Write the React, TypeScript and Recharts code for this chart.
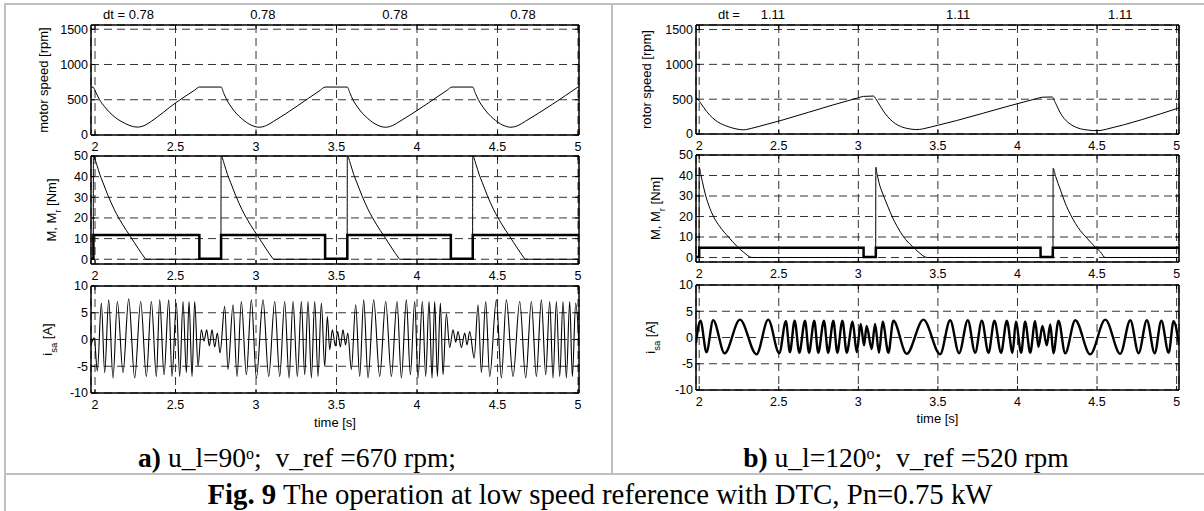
import React from "react";
import { LineChart, Line, XAxis, YAxis, CartesianGrid, ReferenceLine } from "recharts";

type Pt = [number, number];

// ticks
const timeTicks = [2, 2.5, 3, 3.5, 4, 4.5, 5];
const speedTicks = [0, 500, 1000, 1500];
const torqueTicks = [0, 10, 20, 30, 40, 50];
const currentTicks = [-10, -5, 0, 5, 10];

// dt notes above the speed plots
const dtTimesA = [2.208, 3.043, 3.863, 4.658];
const dtTextA = ["dt = 0.78", "0.78", "0.78", "0.78"];
const dtTimesB = [2.187, 2.463, 3.627, 4.646];
const dtTextB = ["dt =", "1.11", "1.11", "1.11"];

// a) u_l=90, v_ref=670 rpm
const speedA: Pt[] = [
  [1.975, 680], [1.988, 678], [2.0, 630], [2.027, 505], [2.06, 400], [2.093, 315], [2.125, 250],
  [2.155, 203], [2.19, 160], [2.217, 133], [2.245, 116], [2.265, 112], [2.285, 118], [2.31, 138],
  [2.35, 195], [2.5, 455], [2.62, 638], [2.648, 680], [2.783, 680], [2.8, 590], [2.818, 500],
  [2.85, 385], [2.88, 300], [2.91, 235], [2.94, 180], [2.97, 140], [3.0, 116], [3.02, 110],
  [3.04, 116], [3.065, 135], [3.11, 195], [3.4, 636], [3.429, 680], [3.567, 680], [3.584, 590],
  [3.602, 500], [3.634, 385], [3.664, 300], [3.694, 235], [3.724, 180], [3.754, 140], [3.784, 116],
  [3.804, 110], [3.824, 116], [3.849, 135], [3.894, 195], [4.19, 640], [4.216, 680], [4.346, 680],
  [4.363, 590], [4.381, 500], [4.413, 385], [4.443, 300], [4.473, 235], [4.503, 180], [4.533, 140],
  [4.563, 116], [4.583, 110], [4.603, 116], [4.628, 135], [4.673, 195], [5.006, 690],
];

const torqueA: Pt[] = [
  [1.975, 0.3], [1.99, 0.3], [1.99, 11.7], [2.648, 11.7], [2.648, 0.3], [2.783, 0.3], [2.783, 11.7],
  [3.429, 11.7], [3.429, 0.3], [3.567, 0.3], [3.567, 11.7], [4.21, 11.7], [4.21, 0.3], [4.346, 0.3],
  [4.346, 11.7], [5.006, 11.7],
];

const loadA: Pt[] = [
  [1.975, 0], [1.989, 0], [1.99, 50], [2.01, 46], [2.03, 41], [2.05, 37], [2.08, 31], [2.12, 24],
  [2.17, 17], [2.22, 11], [2.27, 5], [2.31, 0.5], [2.315, 0],
  [2.782, 0], [2.783, 50], [2.803, 46], [2.823, 41], [2.843, 37], [2.873, 31], [2.913, 24],
  [2.963, 17], [3.013, 11], [3.063, 5], [3.103, 0.5], [3.108, 0],
  [3.566, 0], [3.567, 50], [3.587, 46], [3.607, 41], [3.627, 37], [3.657, 31], [3.697, 24],
  [3.747, 17], [3.797, 11], [3.847, 5], [3.887, 0.5], [3.892, 0],
  [4.345, 0], [4.346, 50], [4.366, 46], [4.386, 41], [4.406, 37], [4.436, 31], [4.476, 24],
  [4.526, 17], [4.576, 11], [4.626, 5], [4.666, 0.5], [4.671, 0], [5.006, 0],
];

const currentA: Pt[] = [
  [1.975, -1.0], [1.995, 0.3], [2.0145, -5.9], [2.0393, 6.8], [2.06, -6.2], [2.0849, 7.4],
  [2.1118, -7.2], [2.1387, 7.1], [2.1739, -6.2], [2.2091, 7.6], [2.2464, -7.2], [2.2836, 7.1],
  [2.3188, -6.9], [2.3499, 7.1], [2.381, -6.9], [2.4017, 7.4], [2.4286, -6.6], [2.4576, 7.4],
  [2.4783, -6.9], [2.5052, 6.8], [2.5259, -6.9], [2.5466, 7.1], [2.5673, -6.2], [2.5839, 7.1],
  [2.6025, -6.9], [2.619, 7.1], [2.6398, -5.0], [2.6605, 1.8], [2.677, -0.3], [2.6936, 1.8],
  [2.7101, -1.2], [2.7267, 1.8], [2.7433, -1.4], [2.7598, 1.2], [2.7764, -2.5], [2.8054, 6.2],
  [2.8261, -5.6], [2.8571, 6.5], [2.882, -6.9], [2.9089, 7.1], [2.94, -6.6], [2.971, 7.4],
  [3.0021, -7.2], [3.0435, 7.4], [3.0787, -6.9], [3.116, 7.1], [3.147, -6.9], [3.178, 7.1],
  [3.205, -7.2], [3.2298, 7.1], [3.2567, -6.9], [3.2816, 7.1], [3.3023, -6.6], [3.323, 7.1],
  [3.3437, -7.2], [3.3644, 7.1], [3.3851, -6.9], [3.4058, 6.8], [3.4265, -5.0], [3.443, 4.3],
  [3.4576, -1.9], [3.4741, 1.8], [3.4928, -1.2], [3.507, 1.5], [3.5235, -1.4], [3.54, 1.8],
  [3.556, -1.0], [3.57, 1.2], [3.5921, -5.6], [3.619, 6.5], [3.6439, -6.9], [3.6687, 7.4],
  [3.6957, -7.2], [3.7309, 7.4], [3.7681, -6.9], [3.8054, 7.1], [3.8406, -6.9], [3.8758, 7.1],
  [3.9027, -7.2], [3.9337, 7.4], [3.9586, -6.6], [3.9855, 7.1], [4.0062, -7.2], [4.0331, 7.1],
  [4.0538, -6.9], [4.0745, 7.1], [4.0932, -7.2], [4.1097, 7.1], [4.1263, -6.9], [4.1449, 6.8],
  [4.1615, -6.6], [4.1822, 4.8], [4.2029, -1.5], [4.2236, 1.8], [4.2402, -0.5], [4.2547, 1.5],
  [4.2754, -1.5], [4.2961, 1.2], [4.3106, -1.0], [4.3271, 1.5], [4.355, -3.5], [4.3789, 6.5],
  [4.3996, -6.2], [4.4265, 7.1], [4.4514, -6.9], [4.4928, 7.4], [4.5238, -7.2], [4.5549, 7.4],
  [4.5963, -6.9], [4.6377, 7.1], [4.6749, -7.2], [4.7101, 7.1], [4.7412, -6.9], [4.7722, 7.4],
  [4.7992, -6.6], [4.824, 7.1], [4.8447, -7.2], [4.8654, 7.1], [4.8861, -6.9], [4.9068, 7.1],
  [4.9275, -7.2], [4.9482, 7.1], [4.9648, -6.9], [4.9855, 6.8], [5.006, -1.0],
];

// b) u_l=120, v_ref=520 rpm
const speedB: Pt[] = [
  [1.98, 520], [1.995, 490], [2.01, 440], [2.027, 385], [2.048, 320], [2.069, 265], [2.1, 200],
  [2.132, 154], [2.165, 120], [2.195, 96], [2.225, 76], [2.258, 63], [2.28, 60], [2.3, 66],
  [2.33, 82], [2.37, 105], [3.0, 520], [3.033, 540], [3.096, 545], [3.11, 505], [3.138, 400],
  [3.17, 290], [3.2, 210], [3.232, 150], [3.264, 110], [3.295, 86], [3.327, 72], [3.358, 64],
  [3.385, 66], [3.41, 76], [3.45, 97], [4.12, 508], [4.155, 528], [4.218, 532], [4.24, 440],
  [4.27, 300], [4.3, 205], [4.333, 140], [4.365, 100], [4.396, 75], [4.43, 60], [4.47, 50],
  [4.5, 48], [4.525, 52], [4.56, 70], [5.015, 375],
];

const torqueB: Pt[] = [
  [1.98, 0.3], [2.0, 0.3], [2.0, 4.8], [3.033, 4.8], [3.033, 0.2], [3.11, 0.2], [3.11, 4.8],
  [4.145, 4.8], [4.145, 0.2], [4.222, 0.2], [4.222, 4.8], [5.015, 4.8],
];

const loadB: Pt[] = [
  [1.98, 0], [1.999, 0], [2.0, 44], [2.01, 40.5], [2.02, 37], [2.038, 31], [2.06, 25.5], [2.09, 20],
  [2.13, 15], [2.184, 10], [2.237, 5.5], [2.28, 2.5], [2.331, 0],
  [3.109, 0], [3.11, 44], [3.117, 41], [3.13, 36.5], [3.159, 30], [3.185, 25], [3.212, 20],
  [3.245, 15], [3.285, 10], [3.338, 5.5], [3.38, 2.5], [3.432, 0],
  [4.223, 0], [4.224, 43.5], [4.24, 39.5], [4.27, 33], [4.3, 26.5], [4.333, 21], [4.365, 16.5],
  [4.396, 13], [4.43, 10], [4.459, 7.5], [4.49, 5], [4.522, 2.7], [4.55, 0], [5.015, 0],
];

const currentB: Pt[] = [
  [1.98, -1.0], [2.008, 3.2], [2.046, -2.8], [2.088, 3.3], [2.16, -3.0], [2.256, 3.4], [2.36, -3.2],
  [2.434, 3.4], [2.503, -3.0], [2.545, 3.1], [2.57, -2.8], [2.6, 3.2], [2.629, -2.9], [2.665, 3.2],
  [2.69, -2.9], [2.723, 3.2], [2.748, -2.9], [2.784, 3.2], [2.81, -2.9], [2.843, 3.2], [2.868, -2.9],
  [2.9, 3.2], [2.927, -2.9], [2.964, 3.0], [2.99, -2.8], [3.015, 2.6], [3.036, -1.5], [3.052, 2.2],
  [3.084, -2.2], [3.105, 2.6], [3.13, -2.9], [3.153, 3.0], [3.189, -2.9], [3.22, 3.2], [3.304, -3.1],
  [3.409, 3.4], [3.514, -3.2], [3.577, 3.3], [3.633, -3.0], [3.688, 3.3], [3.734, -2.9], [3.776, 3.2],
  [3.818, -2.9], [3.855, 3.2], [3.897, -2.9], [3.933, 3.2], [3.969, -2.9], [3.99, 3.0], [4.023, -2.9],
  [4.048, 3.0], [4.08, -2.9], [4.111, 3.1], [4.132, -1.8], [4.157, 2.2], [4.184, -1.5], [4.206, 2.5],
  [4.226, -3.0], [4.258, 3.2], [4.3, -3.0], [4.363, 3.3], [4.457, -3.2], [4.552, 3.4], [4.646, -3.1],
  [4.709, 3.3], [4.761, -3.0], [4.813, 3.3], [4.862, -3.0], [4.904, 3.2], [4.95, -2.9], [4.981, 3.1],
  [5.015, -1.5],
];

const SANS = '"Liberation Sans", Arial, Helvetica, sans-serif';
const SERIF = '"Liberation Serif", "Times New Roman", serif';

const PAD_L = 60;
const PAD_T = 20;
const PAD_R = 20;
const AXIS_H = 40;

type Box = { x: number; y: number; w: number; h: number };
type Series = { pts: Pt[]; width: number; curve: "monotone" | "linear" };
type Title = { main: string; sub?: string; rest?: string; gap: number };

type PlotProps = {
  box: Box;
  xDomain: [number, number];
  yDomain: [number, number];
  yTicks: number[];
  series: Series[];
  title: Title;
  timeOffset?: number;
  noteTimes?: number[];
  noteText?: string[];
};

const rows = (pts: Pt[]) => pts.map(([t, v]) => ({ t, v }));
const noTick = () => <g />;

function AxisTitle({ x, y, title }: { x: number; y: number; title: Title }) {
  return (
    <text
      x={x}
      y={y}
      transform={`rotate(-90 ${x} ${y})`}
      textAnchor="middle"
      dominantBaseline="middle"
      fontSize={13}
      fill="#000"
    >
      {title.main}
      {title.sub && (
        <tspan baselineShift="sub" fontSize={9.5}>
          {title.sub}
        </tspan>
      )}
      {title.rest && <tspan>{title.rest}</tspan>}
    </text>
  );
}

function Plot(p: PlotProps) {
  const { box } = p;
  const width = box.w + PAD_L + PAD_R + 1;
  const height = box.h + PAD_T + 1 + AXIS_H;
  const tx = PAD_L - p.title.gap;
  const ty = PAD_T + 1 + box.h / 2;
  const tickStyle = { fontSize: 12.5, fill: "#000" };
  const axisLine = { stroke: "#000", strokeWidth: 1.5 };

  return (
    <div style={{ position: "absolute", left: box.x - PAD_L, top: box.y - PAD_T - 1 }}>
      <LineChart width={width} height={height} margin={{ top: PAD_T, right: PAD_R, bottom: 0, left: 0 }}>
        <CartesianGrid stroke="#333" strokeDasharray="8 5" />
        <XAxis
          dataKey="t"
          type="number"
          domain={p.xDomain}
          ticks={timeTicks}
          interval={0}
          allowDataOverflow
          height={AXIS_H}
          tickSize={-4}
          tickMargin={11.5}
          tick={tickStyle}
          tickLine={{ stroke: "#000" }}
          axisLine={axisLine}
          label={
            p.timeOffset !== undefined
              ? { value: "time [s]", position: "insideBottom", offset: p.timeOffset, fontSize: 13, fill: "#000" }
              : undefined
          }
        />
        <XAxis
          xAxisId="top"
          orientation="top"
          dataKey="t"
          type="number"
          domain={p.xDomain}
          ticks={timeTicks}
          interval={0}
          allowDataOverflow
          height={1}
          tickSize={-4}
          tick={noTick}
          tickLine={{ stroke: "#000" }}
          axisLine={axisLine}
        />
        <YAxis
          type="number"
          domain={p.yDomain}
          ticks={p.yTicks}
          interval={0}
          allowDataOverflow
          width={PAD_L}
          tickSize={-4}
          tickMargin={7}
          tick={tickStyle}
          tickLine={{ stroke: "#000" }}
          axisLine={axisLine}
          label={{ content: () => <AxisTitle x={tx} y={ty} title={p.title} /> }}
        />
        <YAxis
          yAxisId="right"
          orientation="right"
          type="number"
          domain={p.yDomain}
          ticks={p.yTicks}
          interval={0}
          allowDataOverflow
          width={1}
          tickSize={-4}
          tick={noTick}
          tickLine={{ stroke: "#000" }}
          axisLine={axisLine}
        />
        {(p.noteTimes || []).map((t, i) => (
          <ReferenceLine
            key={`n${i}`}
            x={t}
            stroke="none"
            label={{ value: p.noteText?.[i], position: "top", offset: 6, fontSize: 13, fill: "#000" }}
          />
        ))}
        {p.series.map((s, i) => (
          <Line
            key={i}
            data={rows(s.pts)}
            dataKey="v"
            type={s.curve}
            stroke="#000"
            strokeWidth={s.width}
            dot={false}
            activeDot={false}
            isAnimationActive={false}
          />
        ))}
      </LineChart>
    </div>
  );
}

const domA: [number, number] = [1.975, 5.006];
const domB: [number, number] = [1.98, 5.015];

export default function App() {
  return (
    <div
      style={{
        position: "absolute",
        left: 0,
        top: 0,
        width: 1204,
        height: 511,
        background: "#fff",
        fontFamily: SANS,
        overflow: "hidden",
      }}
    >
      <svg width={1204} height={511} style={{ position: "absolute", left: 0, top: 0 }}>
        <rect x={4} y={3} width={1200} height={2} fill="#c0c0c0" />
        <rect x={4} y={3} width={2} height={508} fill="#c0c0c0" />
        <rect x={611} y={3} width={2} height={471} fill="#c0c0c0" />
        <rect x={4} y={473} width={1200} height={2} fill="#c0c0c0" />
        <text x={297} y={467} textAnchor="middle" fontFamily={SERIF} fontSize={27.5} fill="#000" style={{ whiteSpace: "pre" }}>
          <tspan fontWeight="bold">a)</tspan>
          {" u_l=90"}
          <tspan baselineShift="super" fontSize={16}>o</tspan>
          {";  v_ref =670 rpm;"}
        </text>
        <text x={906} y={467} textAnchor="middle" fontFamily={SERIF} fontSize={27.5} fill="#000" style={{ whiteSpace: "pre" }}>
          <tspan fontWeight="bold">b)</tspan>
          {" u_l=120"}
          <tspan baselineShift="super" fontSize={16}>o</tspan>
          {";  v_ref =520 rpm"}
        </text>
        <text x={600} y={504} textAnchor="middle" fontFamily={SERIF} fontSize={28.8} fill="#000" style={{ whiteSpace: "pre" }}>
          <tspan fontWeight="bold">Fig. 9</tspan>
          {" The operation at low speed reference with DTC, Pn=0.75 kW"}
        </text>
      </svg>

      <Plot
        box={{ x: 91, y: 25, w: 488, h: 110 }}
        xDomain={domA}
        yDomain={[0, 1560]}
        yTicks={speedTicks}
        series={[{ pts: speedA, width: 1, curve: "monotone" }]}
        title={{ main: "motor speed [rpm]", gap: 46 }}
        noteTimes={dtTimesA}
        noteText={dtTextA}
      />
      <Plot
        box={{ x: 91, y: 156, w: 488, h: 108 }}
        xDomain={domA}
        yDomain={[-2.3, 50]}
        yTicks={torqueTicks}
        series={[
          { pts: loadA, width: 1, curve: "monotone" },
          { pts: torqueA, width: 2.5, curve: "linear" },
        ]}
        title={{ main: "M, M", sub: "r", rest: " [Nm]", gap: 38 }}
      />
      <Plot
        box={{ x: 91, y: 286, w: 488, h: 107 }}
        xDomain={domA}
        yDomain={[-10, 10]}
        yTicks={currentTicks}
        series={[{ pts: currentA, width: 1.1, curve: "monotone" }]}
        title={{ main: "i", sub: "sa", rest: " [A]", gap: 42 }}
        timeOffset={6}
      />

      <Plot
        box={{ x: 696, y: 25, w: 483, h: 109 }}
        xDomain={domB}
        yDomain={[0, 1565]}
        yTicks={speedTicks}
        series={[{ pts: speedB, width: 1, curve: "monotone" }]}
        title={{ main: "rotor speed [rpm]", gap: 48 }}
        noteTimes={dtTimesB}
        noteText={dtTextB}
      />
      <Plot
        box={{ x: 696, y: 155, w: 483, h: 107 }}
        xDomain={domB}
        yDomain={[-2.2, 50]}
        yTicks={torqueTicks}
        series={[
          { pts: loadB, width: 1, curve: "monotone" },
          { pts: torqueB, width: 2.5, curve: "linear" },
        ]}
        title={{ main: "M, M", sub: "r", rest: " [Nm]", gap: 39 }}
      />
      <Plot
        box={{ x: 696, y: 285, w: 483, h: 105 }}
        xDomain={domB}
        yDomain={[-10, 10]}
        yTicks={currentTicks}
        series={[{ pts: currentB, width: 2.4, curve: "monotone" }]}
        title={{ main: "i", sub: "sa", rest: " [A]", gap: 44 }}
        timeOffset={7.5}
      />
    </div>
  );
}
